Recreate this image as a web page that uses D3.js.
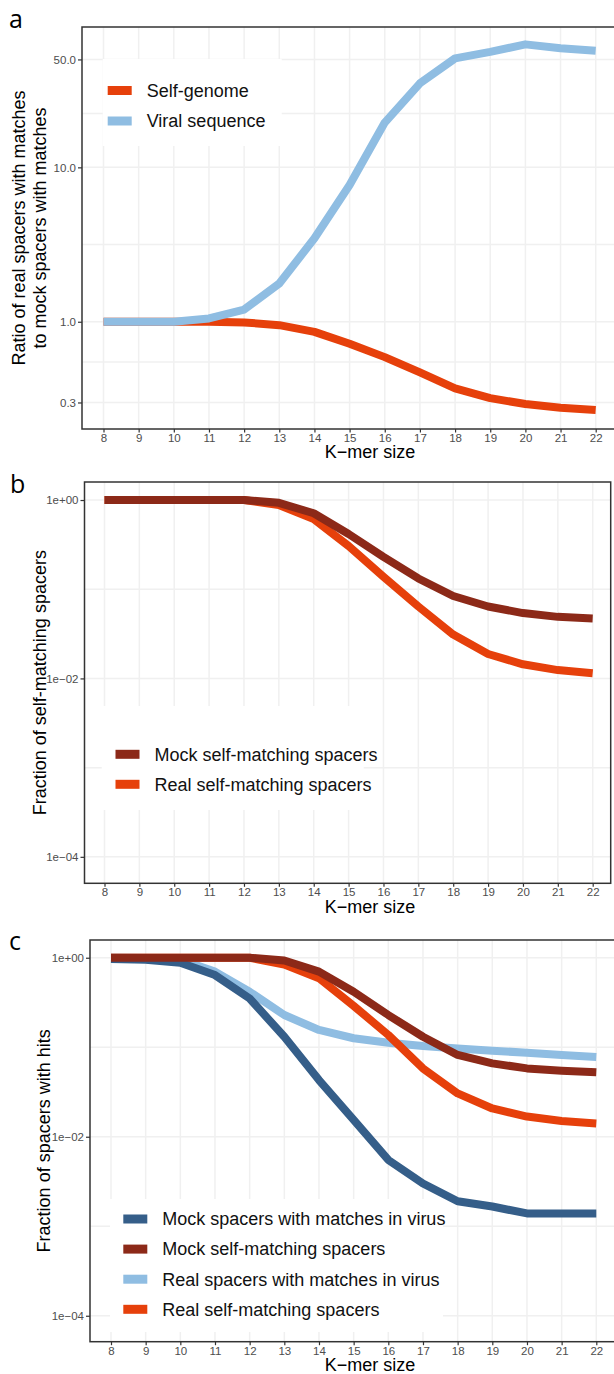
<!DOCTYPE html>
<meta charset="utf-8">
<style>
body { margin: 0; background: #fff; }
svg { display: block; font-family: "Liberation Sans", Arial, sans-serif; }
.grid { stroke: #f0f0f0; stroke-width: 1.5px; fill: none; }
.frame { fill: none; stroke: #333333; stroke-width: 1.5px; }
.tick line { stroke: #333333; stroke-width: 1.2px; }
.tick text { fill: #4d4d4d; font-size: 11.5px; font-family: "Liberation Sans", Arial, sans-serif; }
.title { fill: #000; font-size: 18px; }
.letter { font-family: "Open Sans", sans-serif; font-size: 25px; fill: #000; }
.series { fill: none; stroke-width: 8px; stroke-linejoin: round; stroke-linecap: butt; }
</style>
<body>
<svg id="fig" width="614" height="1374"></svg>
<script src="https://d3js.org/d3.v7.min.js"></script>
<script>

// K-mer sizes on the x axis
var kmer = [8, 9, 10, 11, 12, 13, 14, 15, 16, 17, 18, 19, 20, 21, 22];

// panel a: ratio real / mock
var aSelf  = [1, 1, 1, 1, 0.99, 0.95, 0.86, 0.72, 0.59, 0.47, 0.37, 0.32, 0.293, 0.277, 0.268];
var aViral = [1, 1, 1, 1.05, 1.2, 1.77, 3.47, 7.68, 19.5, 35, 50.8, 56, 62.6, 59, 56.9];

// panel b: fraction of self-matching spacers
var bMock = [1, 1, 1, 1, 1, 0.93, 0.71, 0.416, 0.23, 0.132, 0.084, 0.064, 0.054, 0.049, 0.047];
var bReal = [1, 1, 1, 1, 1, 0.88, 0.61, 0.305, 0.138, 0.064, 0.031, 0.0188, 0.0144, 0.0124, 0.0114];

// panel c: fraction of spacers with hits
var cMockVirus = [0.97, 0.95, 0.88, 0.64, 0.35, 0.131, 0.043, 0.0154, 0.0055, 0.003, 0.0019, 0.00166, 0.00139, 0.00139, 0.00139];
var cMockSelf  = [1, 1, 1, 1, 1, 0.93, 0.70, 0.417, 0.229, 0.131, 0.082, 0.066, 0.058, 0.0547, 0.0524];
var cRealVirus = [1, 0.99, 0.95, 0.70, 0.417, 0.229, 0.156, 0.126, 0.112, 0.103, 0.097, 0.0914, 0.0869, 0.082, 0.078];
var cRealSelf  = [1, 1, 1, 1, 1, 0.84, 0.59, 0.29, 0.137, 0.058, 0.0305, 0.0207, 0.0168, 0.015, 0.0141];

// y ticks
var aTicks = [0.3, 1, 10, 50];
var aTickLabels = ["0.3", "1.0", "10.0", "50.0"];
var aMinor = [0.548, 3.162, 22.36];
var sciTicks = [1, 1e-2, 1e-4];
var sciTickLabels = ["1e+00", "1e\u221202", "1e\u221204"];
var sciMinor = [1e-1, 1e-3];

var cOrange = "#e6400b", cLight = "#8fbde2", cDark = "#8c2918", cNavy = "#355e89";

var svg = d3.select("#fig");

function drawPanel(p) {
  var g = svg.append("g");

  var x = d3.scaleLinear().domain([8, 22]).range([p.x8, p.x22]);
  var y = d3.scaleLog().domain(p.yDomain).range([p.bottom, p.top]);

  // grid
  g.selectAll(".gy").data(p.ticks.concat(p.minor)).enter().append("line")
      .attr("class", "grid")
      .attr("x1", p.left).attr("x2", p.right)
      .attr("y1", function(d) { return y(d); }).attr("y2", function(d) { return y(d); });
  g.selectAll(".gx").data(kmer).enter().append("line")
      .attr("class", "grid")
      .attr("x1", function(d) { return x(d); }).attr("x2", function(d) { return x(d); })
      .attr("y1", p.top).attr("y2", p.bottom);

  // legend background hides the grid
  g.append("rect")
      .attr("x", p.legend.x).attr("y", p.legend.y)
      .attr("width", p.legend.w).attr("height", p.legend.h)
      .attr("fill", "#fff");

  // lines
  var line = d3.line()
      .x(function(d, i) { return x(kmer[i]); })
      .y(function(d) { return y(d); });
  p.series.forEach(function(s) {
    g.append("path")
        .datum(s.values)
        .attr("class", "series")
        .attr("stroke", s.color)
        .attr("d", line);
  });

  // axes
  var ax = g.append("g")
      .attr("transform", "translate(0," + p.bottom + ")")
      .call(d3.axisBottom(x).tickValues(kmer).tickSize(3.5).tickPadding(1.5).tickFormat(d3.format("d")));
  ax.select(".domain").remove();
  var ay = g.append("g")
      .attr("transform", "translate(" + p.left + ",0)")
      .call(d3.axisLeft(y).tickValues(p.ticks).tickSize(4).tickPadding(2)
        .tickFormat(function(d, i) { return p.tickLabels[i]; }));
  ay.select(".domain").remove();

  g.append("rect")
      .attr("class", "frame")
      .attr("x", p.left).attr("y", p.top)
      .attr("width", p.right - p.left).attr("height", p.bottom - p.top);

  // titles
  g.append("text")
      .attr("class", "title")
      .attr("x", 370).attr("y", p.bottom + 23)
      .attr("dy", "0.35em")
      .attr("text-anchor", "middle")
      .text("K\u2212mer size");

  var cy = (p.top + p.bottom) / 2;
  p.yTitle.forEach(function(t, i) {
    g.append("text")
        .attr("class", "title")
        .attr("transform", "translate(" + p.yTitleX[i] + "," + cy + ") rotate(-90)")
        .attr("dy", "0.35em")
        .attr("text-anchor", "middle")
        .text(t);
  });

  g.append("text")
      .attr("class", "letter")
      .attr("x", p.letterX).attr("y", p.letterY)
      .text(p.letter);

  // legend items
  var items = g.selectAll(".legend")
      .data(p.legend.items)
    .enter().append("g")
      .attr("transform", function(d, i) { return "translate(0," + (p.legend.first + i * p.legend.step) + ")"; });
  items.append("rect")
      .attr("x", p.legend.keyX).attr("y", -4.5)
      .attr("width", 24).attr("height", 9)
      .attr("fill", function(d) { return d.color; });
  items.append("text")
      .attr("x", p.legend.keyX + 39)
      .attr("dy", "0.35em")
      .style("font-size", "18px")
      .attr("fill", "#111")
      .text(function(d) { return d.name; });
}

drawPanel({
  letter: "a", letterX: 9, letterY: 28,
  left: 82, right: 640, top: 27, bottom: 429,
  x8: 103.5, x22: 595.7,
  yDomain: [0.202, 81.1],
  ticks: aTicks, tickLabels: aTickLabels, minor: aMinor,
  yTitle: ["Ratio of real spacers with matches", "to mock spacers with matches"],
  yTitleX: [19, 40],
  series: [
    {values: aSelf, color: cOrange},
    {values: aViral, color: cLight}
  ],
  legend: {
    x: 102.7, y: 59, w: 179, h: 87, first: 90.5, step: 30.5, keyX: 107.7,
    items: [{name: "Self-genome", color: cOrange}, {name: "Viral sequence", color: cLight}]
  }
});

drawPanel({
  letter: "b", letterX: 10, letterY: 493,
  left: 84.5, right: 610.7, top: 482, bottom: 883.3,
  x8: 104.5, x22: 592.7,
  yDomain: [5.05e-5, 1.592],
  ticks: sciTicks, tickLabels: sciTickLabels, minor: sciMinor,
  yTitle: ["Fraction of self-matching spacers"],
  yTitleX: [40],
  series: [
    {values: bReal, color: cOrange},
    {values: bMock, color: cDark}
  ],
  legend: {
    x: 101.7, y: 706, w: 262, h: 104, first: 754.3, step: 30, keyX: 115.5,
    items: [{name: "Mock self-matching spacers", color: cDark}, {name: "Real self-matching spacers", color: cOrange}]
  }
});

drawPanel({
  letter: "c", letterX: 9, letterY: 950,
  left: 90, right: 640, top: 940, bottom: 1341.7,
  x8: 111, x22: 596.3,
  yDomain: [5.13e-5, 1.578],
  ticks: sciTicks, tickLabels: sciTickLabels, minor: sciMinor,
  yTitle: ["Fraction of spacers with hits"],
  yTitleX: [44],
  series: [
    {values: cRealVirus, color: cLight},
    {values: cRealSelf, color: cOrange},
    {values: cMockVirus, color: cNavy},
    {values: cMockSelf, color: cDark}
  ],
  legend: {
    x: 110, y: 1199, w: 333, h: 133, first: 1219, step: 30.1, keyX: 123.3,
    items: [
      {name: "Mock spacers with matches in virus", color: cNavy},
      {name: "Mock self-matching spacers", color: cDark},
      {name: "Real spacers with matches in virus", color: cLight},
      {name: "Real self-matching spacers", color: cOrange}
    ]
  }
});

</script>
</body>
